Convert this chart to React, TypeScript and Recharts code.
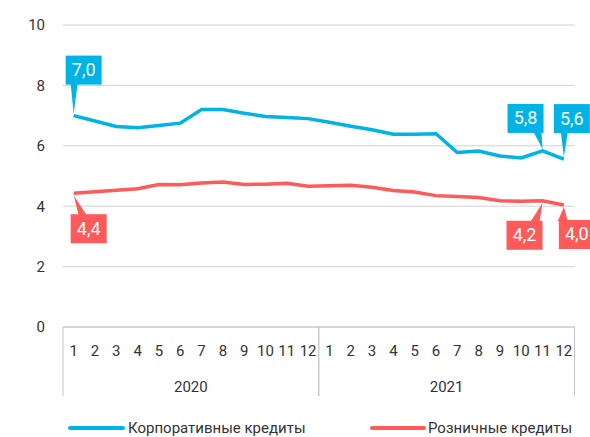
import React from "react";
import {
  LineChart,
  Line,
  XAxis,
  YAxis,
  CartesianGrid,
  Legend,
  LabelList,
} from "recharts";

const months = ["1", "2", "3", "4", "5", "6", "7", "8", "9", "10", "11", "12",
  "1", "2", "3", "4", "5", "6", "7", "8", "9", "10", "11", "12"];
const years = ["2020", "2021"];
const corporate = [7.0, 6.82, 6.64, 6.6, 6.67, 6.75, 7.2, 7.2, 7.08, 6.97, 6.94, 6.9,
  6.78, 6.65, 6.53, 6.38, 6.38, 6.4, 5.78, 5.83, 5.66, 5.6, 5.83, 5.56];
const retail = [4.43, 4.48, 4.53, 4.58, 4.72, 4.71, 4.77, 4.8, 4.72, 4.73, 4.76, 4.66,
  4.68, 4.69, 4.63, 4.52, 4.47, 4.35, 4.32, 4.29, 4.18, 4.16, 4.18, 4.04];
const seriesNames = ["Корпоративные кредиты", "Розничные кредиты"];
const yTicks = [0, 2, 4, 6, 8, 10];

const BLUE = "#00B3E6";
const RED = "#FF5A5A";
const TEXT = "#333";
const GRID = "#d2d2d2";
const FONT = "Roboto, 'Noto Sans', sans-serif";

const W = 590;
const H = 437;
const PLOT_LEFT = 63;
const PLOT_RIGHT = 15.5;
// half of one month's slot, points sit in the middle of their slot
const HALF = (W - PLOT_LEFT - PLOT_RIGHT) / months.length / 2;

const data = months.map((m, i) => ({
  month: m,
  corporate: corporate[i],
  retail: retail[i],
}));

// callout placement per point index: box offset and pointer base, relative to the point
type Callout = { bx: number; by: number; b0: number; b1: number };
const corpCallouts: Record<number, Callout> = {
  0: { bx: -8, by: -60, b0: -3, b1: 4 },
  22: { bx: -35, by: -47, b0: -9, b1: -1 },
  23: { bx: -10, by: -55, b0: -3, b1: 4 },
};
const retailCallouts: Record<number, Callout> = {
  0: { bx: -3, by: 21, b0: 5, b1: 13 },
  22: { bx: -36, by: 20, b0: -12, b1: -3 },
  23: { bx: -5, by: 15, b0: -6, b1: 4 },
};

const BOX_W = 36;
const BOX_H = 29;

const fmt = (v: number) => v.toFixed(1).replace(".", ",");

function makeCallout(spec: Record<number, Callout>, color: string, above: boolean) {
  return (props: any) => {
    const { x, y, value, index } = props;
    const c = spec[index];
    if (!c || x == null || y == null) return null;
    const left = x + c.bx;
    const top = y + c.by;
    const baseY = above ? top + BOX_H - 1 : top + 1;
    const tipY = above ? y - 2 : y + 2;
    return (
      <g>
        <polygon
          points={`${x},${tipY} ${x + c.b0},${baseY} ${x + c.b1},${baseY}`}
          fill={color}
        />
        <rect x={left} y={top} width={BOX_W} height={BOX_H} fill={color} />
        <text
          x={left + BOX_W / 2}
          y={top + BOX_H / 2 + 6}
          textAnchor="middle"
          fontSize={18}
          fill="#fff"
          fontFamily={FONT}
        >
          {fmt(value)}
        </text>
      </g>
    );
  };
}

function MonthTick(props: any) {
  const { x, y, payload, index } = props;
  const pos = index % 12;
  return (
    <g>
      <text x={x} y={y + 29} textAnchor="middle" fontSize={15} fill={TEXT} fontFamily={FONT}>
        {payload.value}
      </text>
      {pos === 0 && (
        <line x1={x - HALF} x2={x - HALF} y1={y} y2={y + 69} stroke="#c4c4c4" />
      )}
      {pos === 11 && (
        <line x1={x + HALF} x2={x + HALF} y1={y} y2={y + 69} stroke="#c4c4c4" />
      )}
      {pos === 5 && (
        <text x={x + HALF} y={y + 65} textAnchor="middle" fontSize={15} fill={TEXT} fontFamily={FONT}>
          {years[Math.floor(index / 12)]}
        </text>
      )}
    </g>
  );
}

function LegendBox() {
  return (
    <svg width={W} height={19} style={{ display: "block" }}>
      <line x1={70} x2={123} y1={10} y2={10} stroke={BLUE} strokeWidth={4} strokeLinecap="round" />
      <text x={128} y={15} fontSize={15} fill={TEXT} fontFamily={FONT}>
        {seriesNames[0]}
      </text>
      <line x1={372} x2={424} y1={10} y2={10} stroke={RED} strokeWidth={4} strokeLinecap="round" />
      <text x={428} y={15} fontSize={15} fill={TEXT} fontFamily={FONT}>
        {seriesNames[1]}
      </text>
    </svg>
  );
}

export default function App() {
  return (
    <div style={{ position: "absolute", left: 0, top: 0, width: W, height: H, background: "#fff", overflow: "hidden" }}>
      <LineChart
        width={W}
        height={H}
        data={data}
        margin={{ top: 25, right: PLOT_RIGHT, left: 0, bottom: 0 }}
        style={{ fontFamily: FONT }}
      >
        <CartesianGrid vertical={false} stroke={GRID} />
        <XAxis
          dataKey="month"
          interval={0}
          height={110}
          padding={{ left: HALF, right: HALF }}
          tickLine={false}
          tickSize={0}
          tickMargin={0}
          axisLine={{ stroke: "#c4c4c4" }}
          tick={<MonthTick />}
        />
        <YAxis
          domain={[0, 10]}
          ticks={yTicks}
          width={PLOT_LEFT}
          axisLine={false}
          tickLine={false}
          tickSize={0}
          tickMargin={18}
          tick={{ fill: TEXT, fontSize: 15, fontFamily: FONT }}
        />
        <Legend
          verticalAlign="middle"
          align="center"
          layout="horizontal"
          wrapperStyle={{ top: 418, left: 0, width: W, height: 19 }}
          content={() => <LegendBox />}
        />
        <Line
          dataKey="corporate"
          name={seriesNames[0]}
          stroke={BLUE}
          strokeWidth={3.5}
          dot={false}
          type="linear"
          isAnimationActive={false}
        >
          <LabelList dataKey="corporate" content={makeCallout(corpCallouts, BLUE, true)} />
        </Line>
        <Line
          dataKey="retail"
          name={seriesNames[1]}
          stroke={RED}
          strokeWidth={3.5}
          dot={false}
          type="linear"
          isAnimationActive={false}
        >
          <LabelList dataKey="retail" content={makeCallout(retailCallouts, RED, false)} />
        </Line>
      </LineChart>
    </div>
  );
}
